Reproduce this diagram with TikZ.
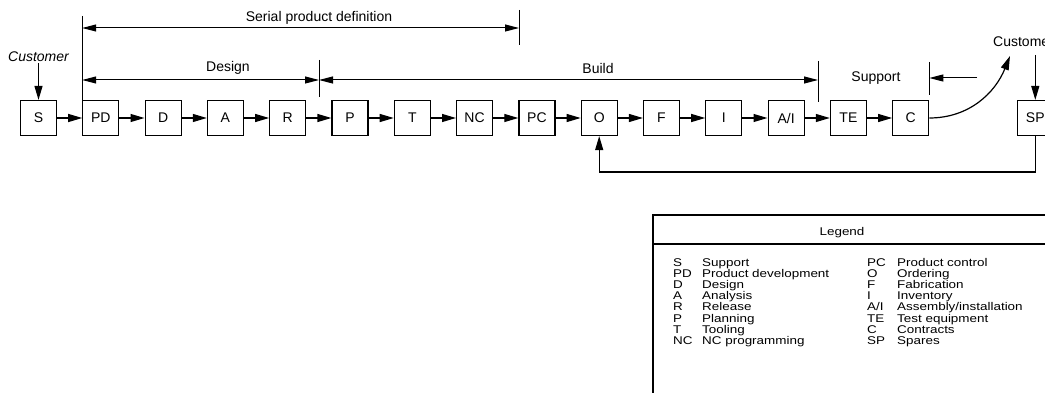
\documentclass[tikz,border=0pt]{standalone}
\usepackage{fontspec}
\setmainfont{Liberation Sans}
\newfontfamily\legendfont[FakeStretch=1.2]{Liberation Sans}
\usetikzlibrary{arrows.meta, calc}

\tikzset{
  stage/.style={draw, line width=1.2pt, minimum width=36pt, minimum height=35pt, inner sep=0pt, font=\fontsize{14}{16}\selectfont},
  flow/.style={line width=1.2pt, -{Triangle[length=14pt,width=8pt]}},
  span/.style={line width=1pt, {Triangle[length=14pt,width=7pt]}-{Triangle[length=14pt,width=7pt]}},
  tick/.style={line width=1pt},
  lbl/.style={inner sep=1pt, font=\fontsize{14}{16}\selectfont},
  legtxt/.style={anchor=base west, inner sep=0pt, font=\legendfont\fontsize{11.2}{11.1}\selectfont},
}

\begin{document}
\begin{tikzpicture}[x=1pt,y=-1pt]
  \useasboundingbox (0,0) rectangle (1045,393);
  \clip (0,0) rectangle (1045,393);

  % process chain
  \foreach \i/\name/\txt in {0/S/S, 1/PD/PD, 2/D/D, 3/A/A, 4/R/R, 5/P/P, 6/T/T, 7/NC/NC,
      8/PC/PC, 9/O/O, 10/F/F, 11/I/I, 12/AI/{A/I}, 13/TE/TE, 14/C/C, 16/SP/SP}
    \node[stage] (\name) at (38.5+62.3*\i,118) {\txt};

  \foreach \a/\b in {S/PD, PD/D, D/A, A/R, R/P, P/T, T/NC, NC/PC, PC/O, O/F, F/I, I/AI, AI/TE, TE/C}
    \draw[flow] (\a) -- (\b);

  % customers
  \node[lbl, anchor=base, font=\fontsize{14}{16}\selectfont\itshape] (custL) at (38.5,62) {Customer};
  \draw[flow] (custL.south) -- (S.north);

  \node[lbl, anchor=base west] (custR) at (992,47) {Customer};
  \coordinate (custC) at (1010,56);
  \coordinate (spin) at (SP.north |- 0,55);
  \draw[flow] (C.east) to[out=0, in=-112] (custC);
  \draw[flow] (spin) -- (SP.north);

  % feedback from spares
  \coordinate (fb) at (O.south |- 0,172);
  \draw[flow] (SP.south) |- (fb) -- (O.south);

  % serial product definition
  \coordinate (sp1) at (PD.north west |- 0,16);
  \coordinate (sp2) at (519,10);
  \coordinate (sp3) at (519,45);
  \draw[tick] (sp1) -- (PD.north west);
  \draw[tick] (sp2) -- (sp3);
  \draw[span] (PD.west |- 0,28) -- (519,28);
  \node[lbl, anchor=base] (serial) at (319,22) {Serial product definition};

  % design / build / support
  \coordinate (dt1) at (319,60);
  \coordinate (dt2) at (319,97);
  \draw[tick] (dt1) -- (dt2);
  \draw[span] (PD.west |- 0,80) -- (319,80);
  \node[lbl, anchor=base] (design) at (228,72) {Design};

  \coordinate (bt1) at (818,61);
  \coordinate (bt2) at (818,102);
  \draw[tick] (bt1) -- (bt2);
  \draw[span] (319,80) -- (818,80);
  \node[lbl, anchor=base] (build) at (598,74) {Build};

  \coordinate (st1) at (C.east |- 0,62);
  \coordinate (st2) at (C.east |- 0,95);
  \coordinate (stfree) at (977,78);
  \draw[tick] (st1) -- (st2);
  \draw[line width=1pt, -{Triangle[length=14pt,width=7pt]}] (stfree) -- (st1 |- stfree);
  \node[lbl, anchor=base] (support) at (876,82) {Support};

  % legend
  \draw[line width=1.2pt] (1060,215) -- (653,215) -- (653,396);
  \draw[line width=1.2pt] (653,244) -- (1060,244);
  \node[lbl, anchor=base, font=\legendfont\fontsize{11.2}{12}\selectfont] (legend) at (842,236) {Legend};

  \foreach \ab/\desc [count=\r from 0] in {S/Support, PD/Product development, D/Design, A/Analysis,
      R/Release, P/Planning, T/Tooling, NC/NC programming} {
    \node[legtxt] (kl\r) at (673,266.5+11.1*\r) {\ab};
    \node[legtxt] (dl\r) at (702,266.5+11.1*\r) {\desc};
  }
  \foreach \ab/\desc [count=\r from 0] in {PC/Product control, O/Ordering, F/Fabrication, I/Inventory,
      {A/I}/{Assembly/installation}, TE/Test equipment, C/Contracts, SP/Spares} {
    \node[legtxt] (kr\r) at (867,266.5+11.1*\r) {\ab};
    \node[legtxt] (dr\r) at (897,266.5+11.1*\r) {\desc};
  }
\end{tikzpicture}
\end{document}
